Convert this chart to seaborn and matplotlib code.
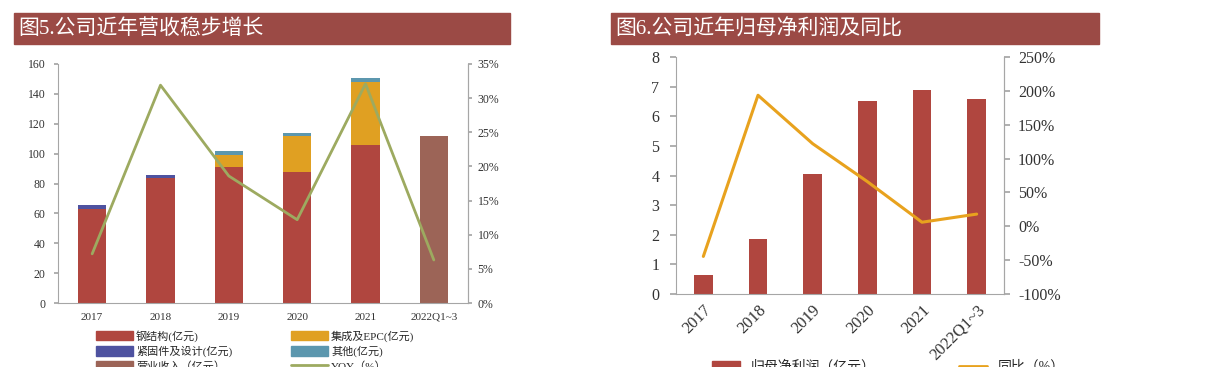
import numpy as np
import pandas as pd
import matplotlib
matplotlib.use("Agg")
import matplotlib.pyplot as plt
from matplotlib.patches import Patch, Rectangle
from matplotlib.lines import Line2D
import seaborn as sns

sns.set_theme(style="white")
plt.rcParams['font.family'] = ['Liberation Serif', 'Noto Sans CJK SC', 'DejaVu Sans']

# ---------------- data ----------------
years = ["2017", "2018", "2019", "2020", "2021", "2022Q1~3"]
steel = [63.2, 83.5, 90.8, 87.5, 105.5, 0]
epc = [0, 0, 7.8, 24.0, 42.5, 0]
fastener = [2.4, 2.4, 0.4, 0, 0, 0]
other = [0, 0, 3.0, 2.5, 2.5, 0]
revenue = [0, 0, 0, 0, 0, 111.5]
yoy = [7.2, 31.9, 18.6, 12.2, 32.1, 6.3]

profit = [0.64, 1.84, 4.05, 6.51, 6.89, 6.58]
profit_yoy = [-44.5, 193.5, 122.0, 66.0, 6.0, 18.0]

c_steel = "#B0463F"
c_epc = "#E0A022"
c_fast = "#4E52A0"
c_other = "#5C97AE"
c_rev = "#9C6457"
c_yoy = "#9DAA60"
c_line2 = "#E8A21E"
banner = "#9B4A45"
spine_c = "#A6A6A6"
txt_c = "#333333"

W, H = 1210, 367
fig = plt.figure(figsize=(W / 100, H / 100), dpi=100)

def fax(x0, y0, x1, y1):
    return fig.add_axes([x0 / W, 1 - y1 / H, (x1 - x0) / W, (y1 - y0) / H])

# ---------------- banners ----------------
for (x0, x1, t) in [(14, 510, "图5.公司近年营收稳步增长"), (611, 1099, "图6.公司近年归母净利润及同比")]:
    fig.patches.append(Rectangle((x0 / W, 1 - 44 / H), (x1 - x0) / W, 31 / H,
                                 transform=fig.transFigure, color=banner, zorder=0))
    fig.text((x0 + 4) / W, 1 - 29 / H, t, color="white", fontsize=15, va="center", ha="left",
             family=['Liberation Serif', 'Noto Sans CJK SC'])

# ---------------- left chart ----------------
ax = fax(58, 64, 468, 303)
df = pd.DataFrame({"year": years, "steel": steel, "epc": epc, "fast": fastener,
                   "other": other, "rev": revenue})
c1 = df["steel"]
c2 = c1 + df["fast"]
c3 = c2 + df["epc"]
c4 = c3 + df["other"]
bw = 0.41
for vals, col in [(c4, c_other), (c3, c_epc), (c2, c_fast), (c1, c_steel), (df["rev"], c_rev)]:
    sns.barplot(x=df["year"], y=vals, color=col, width=bw, ax=ax, saturation=1, linewidth=0)
ax.set_xlim(-0.5, 5.5)
ax.set_ylim(0, 160)
ax.set_yticks(range(0, 161, 20))
ax.set_xlabel("")
ax.set_ylabel("")
ax.spines["top"].set_visible(False)
for s in ["left", "bottom", "right"]:
    ax.spines[s].set_color(spine_c)
    ax.spines[s].set_linewidth(0.8)
ax.tick_params(axis="y", direction="out", length=3, color=spine_c, labelsize=8.5, labelcolor=txt_c, pad=6)
ax.tick_params(axis="x", length=0, labelsize=8, labelcolor=txt_c, pad=7)

ax2 = ax.twinx()
sns.lineplot(x=np.arange(len(years)), y=yoy, color=c_yoy, linewidth=2, ax=ax2)
ax2.set_ylim(0, 35)
ax2.set_yticks(range(0, 36, 5))
ax2.set_yticklabels([f"{v}%" for v in range(0, 36, 5)])
for s in ["top", "left", "bottom"]:
    ax2.spines[s].set_visible(False)
ax2.spines["right"].set_color(spine_c)
ax2.spines["right"].set_linewidth(0.8)
ax2.tick_params(axis="y", direction="out", length=3, color=spine_c, labelsize=8.5, labelcolor=txt_c, pad=4)
ax2.set_xlim(-0.5, 5.5)

handles = [Patch(color=c_steel), Patch(color=c_fast), Patch(color=c_rev),
           Patch(color=c_epc), Patch(color=c_other), Line2D([], [], color=c_yoy, lw=2)]
labels = ["钢结构(亿元)", "紧固件及设计(亿元)", "营业收入（亿元）",
          "集成及EPC(亿元)", "其他(亿元)", "YOY（%）"]
fig.legend(handles, labels, ncol=2, loc="upper left", bbox_to_anchor=(96 / W, 1 - 330 / H),
           frameon=False, handlelength=3.3, handleheight=0.9, columnspacing=5.3,
           labelspacing=0.35, handletextpad=0.3, borderpad=0, borderaxespad=0,
           prop={"family": ['Liberation Serif', 'Noto Sans CJK SC'], "size": 8})

# ---------------- right chart ----------------
bx = fax(676, 57, 1004, 294)
sns.barplot(x=years, y=profit, color=c_steel, width=0.34, ax=bx, saturation=1, linewidth=0)
bx.set_xlim(-0.5, 5.5)
bx.set_ylim(0, 8)
bx.set_yticks(range(0, 9))
bx.spines["top"].set_visible(False)
for s in ["left", "bottom", "right"]:
    bx.spines[s].set_color(spine_c)
    bx.spines[s].set_linewidth(0.8)
bx.tick_params(axis="y", direction="out", length=4, color=spine_c, labelsize=11.5, labelcolor=txt_c, pad=8)
bx.tick_params(axis="x", length=0, labelsize=12, labelcolor=txt_c, pad=6)
for lab in bx.get_xticklabels():
    lab.set_rotation(45)
    lab.set_ha("right")
    lab.set_rotation_mode("anchor")

bx2 = bx.twinx()
sns.lineplot(x=np.arange(len(years)), y=profit_yoy, color=c_line2, linewidth=2.2, ax=bx2)
bx2.set_ylim(-100, 250)
bx2.set_yticks(range(-100, 251, 50))
bx2.set_yticklabels([f"{v}%" for v in range(-100, 251, 50)])
for s in ["top", "left", "bottom"]:
    bx2.spines[s].set_visible(False)
bx2.spines["right"].set_color(spine_c)
bx2.spines["right"].set_linewidth(0.8)
bx2.tick_params(axis="y", direction="out", length=4, color=spine_c, labelsize=11.5, labelcolor=txt_c, pad=6)
bx2.set_xlim(-0.5, 5.5)

h2 = [Patch(color=c_steel), Line2D([], [], color=c_line2, lw=2)]
l2 = ["归母净利润（亿元）", "同比（%）"]
fig.legend(h2, l2, ncol=2, loc="upper left", bbox_to_anchor=(712 / W, 1 - 360 / H),
           frameon=False, handlelength=2, columnspacing=6, borderpad=0, borderaxespad=0,
           prop={"family": ['Liberation Serif', 'Noto Sans CJK SC'], "size": 10})

fig.savefig("out.png", dpi=100, facecolor="white")
